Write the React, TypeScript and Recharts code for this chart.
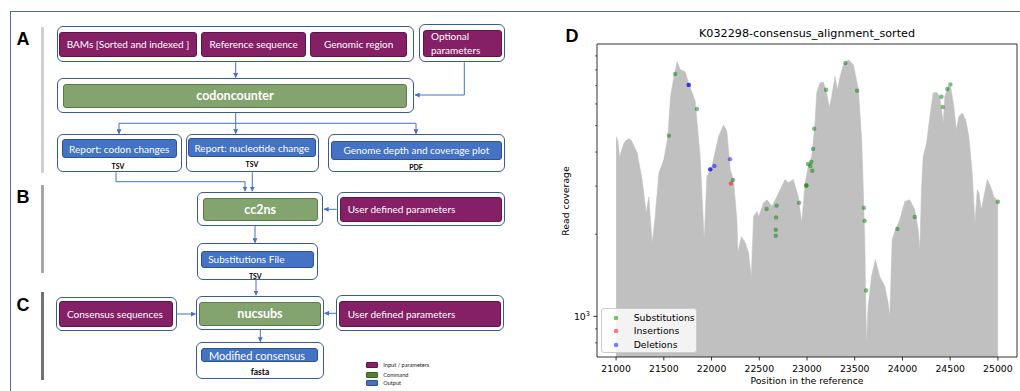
import React from 'react';
import { ComposedChart, Area, Scatter, XAxis, YAxis, Legend, ReferenceArea } from 'recharts';

// ---------- Panel D data ----------
const coveragePositions = [
  21000, 21020, 21037, 21052, 21084, 21126, 21157, 21220, 21273, 21315,
  21343, 21378, 21409, 21448, 21500, 21542, 21570, 21605, 21640, 21671,
  21724, 21758, 21829, 21881, 21923, 21951, 22004, 22073, 22126, 22161,
  22196, 22230, 22266, 22277, 22311, 22353, 22388, 22416, 22440, 22476,
  22493, 22545, 22581, 22633, 22668, 22717, 22770, 22804, 22857, 22909,
  22944, 22980, 23014, 23049, 23084, 23101, 23137, 23171, 23206, 23234,
  23258, 23294, 23318, 23347, 23381, 23434, 23486, 23539, 23573, 23588,
  23605, 23623, 23640, 23675, 23717, 23762, 23815, 23850, 23867, 23892,
  23919, 23972, 24024, 24077, 24129, 24165, 24182, 24199, 24217, 24252,
  24287, 24322, 24357, 24391, 24427, 24444, 24480, 24504, 24538, 24564,
  24591, 24627, 24661, 24696, 24731, 24759, 24784, 24801, 24826, 24853,
  24889, 24923, 24958, 25000,
];
const coverageDepth = [
  4560, 4365, 3811, 4009, 4325, 4478, 4436, 3981, 3170, 2399,
  2742, 1862, 2317, 3357, 3750, 4560, 6383, 7550, 8570, 8017,
  7870, 7194, 6149, 3856, 1910, 3251, 3545, 4560, 5035, 4753,
  3444, 3170, 2259, 1711, 1959, 1862, 1711, 1386, 2317, 2424,
  2317, 2606, 2673, 2530, 2673, 2911, 3170, 3090, 3170, 2750,
  2203, 3090, 3545, 3856, 5128, 6597, 7180, 7220, 6597, 5819,
  6400, 7570, 6777, 7570, 8356, 8714, 8356, 6777, 4436, 3090,
  1910, 801, 1088, 1401, 1614, 1401, 1288, 1122, 1000, 1910,
  2047, 2259, 2636, 2673, 2460, 2080, 1754, 2911, 3856, 4310,
  5400, 6580, 6620, 6400, 5128, 6400, 6960, 6960, 5900, 4830,
  5400, 5560, 5260, 4560, 3357, 2203, 2911, 2838, 2460, 2750,
  3170, 2990, 2750, 2636,
];

const substitutionPositions = [21553, 21619, 21847, 22224, 22577, 22682, 22676, 22673, 22673, 22917, 22993, 22993, 23009, 23046, 23035, 23056, 23064, 23075, 23200, 23402, 23525, 23596, 23604, 23619, 23947, 24129, 24409, 24423, 24470, 24502, 25000];
const substitutionDepth = [4592, 7727, 5750, 3160, 2473, 2545, 2305, 2078, 1975, 2609, 3016, 3016, 3615, 3678, 3556, 3418, 4108, 4870, 6766, 8477, 6710, 2497, 2241, 1244, 2092, 2312, 6378, 5848, 6808, 7076, 2630];
const insertionPositions = [22203];
const insertionDepth = [3068];
const deletionPositions = [21761, 21761, 21986, 21986, 22030, 22194];
const deletionDepth = [7047, 7047, 3456, 3456, 3556, 3767];

const seriesNames = ['Substitutions', 'Insertions', 'Deletions'];
const seriesColors = ['green', 'red', 'blue'];

const xTicks = [21000, 21500, 22000, 22500, 23000, 23500, 24000, 24500, 25000];
const yTicks = [800, 900, 1000, 2000, 3000, 4000, 5000, 6000, 7000, 8000, 9000];
const yMajorTicks = [1000];
const xDomain = [20800, 25200];
const yDomain = [710, 9950];

const chartTitle = 'K032298-consensus_alignment_sorted';
const xLabel = 'Position in the reference';
const yLabel = 'Read coverage';

const coverage = coveragePositions.map((pos, i) => ({ pos, cov: coverageDepth[i] }));
const substitutions = substitutionPositions.map((pos, i) => ({ pos, cov: substitutionDepth[i] }));
const insertions = insertionPositions.map((pos, i) => ({ pos, cov: insertionDepth[i] }));
const deletions = deletionPositions.map((pos, i) => ({ pos, cov: deletionDepth[i] }));

const MPL = 'DejaVu Sans';
const FS = 9.3;

const XTick = (props: any) => {
  const { x, y, payload } = props;
  return (
    <g>
      <line x1={x} x2={x} y1={y} y2={y + 3.5} stroke="#000" strokeWidth={0.8} />
      <text x={x} y={y + 14.7} textAnchor="middle" fontFamily={MPL} fontSize={FS} fill="#000">
        {payload.value}
      </text>
    </g>
  );
};

const YTick = (props: any) => {
  const { x, y, payload } = props;
  const major = yMajorTicks.includes(payload.value);
  if (!major) {
    return <line x1={x - 2} x2={x} y1={y} y2={y} stroke="#000" strokeWidth={0.6} />;
  }
  const exp = Math.round(Math.log10(payload.value));
  return (
    <g>
      <line x1={x - 3.5} x2={x} y1={y} y2={y} stroke="#000" strokeWidth={0.8} />
      <text x={x - 7} y={y + 3.4} textAnchor="end" fontFamily={MPL} fontSize={FS} fill="#000">
        10
        <tspan fontSize={6.6} dy={-4.2}>{exp}</tspan>
      </text>
    </g>
  );
};

const dotShape = (color: string) => (p: any) => (
  <circle cx={p.cx} cy={p.cy} r={2.2} fill={color} fillOpacity={0.5} />
);

const LegendBox = (props: any) => {
  const items = (props.payload || []).filter((p: any) => seriesNames.includes(p.value));
  items.sort((a: any, b: any) => seriesNames.indexOf(a.value) - seriesNames.indexOf(b.value));
  return (
    <div
      style={{
        width: 95.7,
        height: 44.4,
        boxSizing: 'border-box',
        border: '1px solid #cccccc',
        borderRadius: 3,
        background: 'rgba(255,255,255,0.8)',
        fontFamily: MPL,
        fontSize: FS,
        color: '#000',
        position: 'relative',
      }}
    >
      {items.map((p: any, i: number) => (
        <div
          key={p.value}
          style={{ position: 'absolute', left: -1, top: 8.4 + i * 13.7 - 8, height: 16, display: 'flex', alignItems: 'center', whiteSpace: 'nowrap' }}
        >
          <svg width={30} height={16} style={{ display: 'block' }}>
            <circle cx={15} cy={8} r={2.3} fill={seriesColors[seriesNames.indexOf(p.value)]} fillOpacity={0.5} />
          </svg>
          <span style={{ marginLeft: 2.7, lineHeight: '16px' }}>{p.value}</span>
        </div>
      ))}
    </div>
  );
};

// ---------- Flowchart helpers ----------
const PURPLE = '#851f66';
const PURPLE_B = '#5e1649';
const GREEN = '#84a46f';
const GREEN_B = '#5b7a49';
const BLUE = '#4472c4';
const BLUE_B = '#2f528f';
const OUTER_B = '#3b5a9b';
const FLOW_FONT = 'Lato, "Open Sans", sans-serif';

const Outer = ({ x, y, w, h }: any) => (
  <div
    style={{
      position: 'absolute', left: x, top: y, width: w, height: h, boxSizing: 'border-box',
      border: `1.4px solid ${OUTER_B}`, borderRadius: 6, background: '#fff',
    }}
  />
);

const Inner = ({ x, y, w, h, fill, border, children, left, size = 10, bold = false }: any) => (
  <div
    style={{
      position: 'absolute', left: x, top: y, width: w, height: h, boxSizing: 'border-box',
      background: fill, border: `1px solid ${border}`, borderRadius: 3, color: '#fff',
      display: 'flex', alignItems: 'center',
      justifyContent: left !== undefined ? 'flex-start' : 'center',
      paddingLeft: left !== undefined ? left - x : 0,
      fontFamily: FLOW_FONT, fontSize: size, fontWeight: bold ? 700 : 400, whiteSpace: 'nowrap',
      lineHeight: 1.2,
    }}
  >
    {children}
  </div>
);

const SubLabel = ({ cx, cy, children, size = 7 }: any) => (
  <div
    style={{
      position: 'absolute', left: cx - 30, top: cy - 6, width: 60, height: 12, textAlign: 'center',
      fontFamily: FLOW_FONT, fontWeight: 700, fontSize: size, lineHeight: '12px', color: '#000',
    }}
  >
    {children}
  </div>
);

const Letter = ({ cx, cy, children }: any) => (
  <div
    style={{
      position: 'absolute', left: cx - 15, top: cy - 12, width: 30, height: 24, textAlign: 'center',
      fontFamily: '"Liberation Sans", Arial, sans-serif', fontWeight: 700, fontSize: 18, lineHeight: '24px', color: '#000',
    }}
  >
    {children}
  </div>
);

const Bar = ({ y1, y2, color }: any) => (
  <div style={{ position: 'absolute', left: 41, top: y1, width: 3, height: y2 - y1, background: color }} />
);

const arrowPaths = [
  { d: 'M235.7 62.3 V77.5', head: true },
  { d: 'M464.3 62.3 V95 H415', head: true },
  { d: 'M235.7 112.7 V133.8', head: true },
  { d: 'M119 123.3 H416', head: false },
  { d: 'M119 123.3 V133.8', head: true },
  { d: 'M416 123.3 V133.8', head: true },
  { d: 'M116 172.3 V181.7 H245 V191.2', head: true },
  { d: 'M252.3 172.3 V191.2', head: true },
  { d: 'M336.7 209.3 H324', head: true },
  { d: 'M255 226 V242.8', head: true },
  { d: 'M256 280 V295.2', head: true },
  { d: 'M176.7 314 H195.5', head: true },
  { d: 'M336 313.3 H324.5', head: true },
  { d: 'M260.3 330 V341.8', head: true },
];

export default function App() {
  return (
    <div style={{ position: 'absolute', left: 0, top: 0, width: 1020, height: 391, background: '#fff', overflow: 'hidden' }}>
      {/* figure frame */}
      <div style={{ position: 'absolute', left: 10, top: 10.5, width: 1010, height: 1.3, background: '#5068a8' }} />
      <div style={{ position: 'absolute', left: 9.5, top: 10.5, width: 1.3, height: 381, background: '#5068a8' }} />

      {/* ---------- Flowchart A/B/C ---------- */}
      <Letter cx={23} cy={39}>A</Letter>
      <Letter cx={23} cy={197}>B</Letter>
      <Letter cx={23} cy={305}>C</Letter>
      <Bar y1={26.7} y2={173.3} color="#d0d0d0" />
      <Bar y1={185} y2={273.3} color="#a8a6a6" />
      <Bar y1={291.7} y2={380} color="#767171" />

      {/* Row 1 */}
      <Outer x={56.7} y={25.7} w={357.6} h={36.6} />
      <Inner x={59.3} y={31.7} w={137.4} h={25.6} fill={PURPLE} border={PURPLE_B}>BAMs [Sorted and indexed ]</Inner>
      <Inner x={201.3} y={31.7} w={104.7} h={25.6} fill={PURPLE} border={PURPLE_B}>Reference sequence</Inner>
      <Inner x={310} y={31.7} w={97.3} h={25.6} fill={PURPLE} border={PURPLE_B}>Genomic region</Inner>
      <Outer x={419} y={24.3} w={86} h={38} />
      <Inner x={422.7} y={30} w={79} h={26.7} fill={PURPLE} border={PURPLE_B} left={430}>
        <span style={{ lineHeight: '14px' }}>Optional<br />parameters</span>
      </Inner>

      {/* Row 2 */}
      <Outer x={56.7} y={77.7} w={357.6} h={35} />
      <Inner x={62.7} y={84.3} w={344.6} h={23.4} fill={GREEN} border={GREEN_B} size={12.5} bold>codoncounter</Inner>

      {/* Row 3 */}
      <Outer x={56.7} y={134.3} w={125} h={38} />
      <Inner x={61.7} y={139.3} w={115} h={19} fill={BLUE} border={BLUE_B}>Report: codon changes</Inner>
      <SubLabel cx={118} cy={166}>TSV</SubLabel>
      <Outer x={185.7} y={134.3} w={133.6} h={38} />
      <Inner x={187.7} y={138.3} w={128.3} h={19} fill={BLUE} border={BLUE_B}>Report: nucleotide change</Inner>
      <SubLabel cx={252} cy={163.7}>TSV</SubLabel>
      <Outer x={327.7} y={134.3} w={177.3} h={38} />
      <Inner x={331} y={140.7} w={170.7} h={19.3} fill={BLUE} border={BLUE_B}>Genome depth and coverage plot</Inner>
      <SubLabel cx={416} cy={167.3}>PDF</SubLabel>

      {/* B */}
      <Outer x={196.7} y={191.7} w={126.6} h={34.3} />
      <Inner x={202.7} y={198.3} w={115} h={22.7} fill={GREEN} border={GREEN_B} size={12.5} bold>cc2ns</Inner>
      <Outer x={336.7} y={191.7} w={168.3} h={34.3} />
      <Inner x={340} y={196.7} w={161.7} h={25.6} fill={PURPLE} border={PURPLE_B} left={346.7}>User defined parameters</Inner>
      <Outer x={196.7} y={243.3} w={121.6} h={36.7} />
      <Inner x={201} y={251} w={113.3} h={16.7} fill={BLUE} border={BLUE_B} left={207.3}>Substitutions File</Inner>
      <SubLabel cx={255.3} cy={275.7}>TSV</SubLabel>

      {/* C */}
      <Outer x={55.7} y={297.3} w={121} h={33.4} />
      <Inner x={59.3} y={300.7} w={114} h={26} fill={PURPLE} border={PURPLE_B} left={66}>Consensus sequences</Inner>
      <Outer x={196} y={295.7} w={128} h={34.3} />
      <Inner x={199.3} y={301.7} w={121.4} h={24} fill={GREEN} border={GREEN_B} size={12.5} bold>nucsubs</Inner>
      <Outer x={336} y={295.3} w={168} h={35.4} />
      <Inner x={339.3} y={300.7} w={161.7} h={26} fill={PURPLE} border={PURPLE_B} left={346.7}>User defined parameters</Inner>
      <Outer x={196} y={342.3} w={128} h={37} />
      <Inner x={201.3} y={348.3} w={117} h={14} fill={BLUE} border={BLUE_B} left={208} size={11}>Modified consensus</Inner>
      <SubLabel cx={260} cy={371.7} size={8.5}>fasta</SubLabel>

      {/* flowchart legend */}
      <div style={{ position: 'absolute', left: 366, top: 361.7, width: 11.7, height: 6, background: PURPLE, border: `0.6px solid ${PURPLE_B}`, boxSizing: 'border-box', borderRadius: 1 }} />
      <div style={{ position: 'absolute', left: 366, top: 372, width: 11.7, height: 5.5, background: '#548235', border: '0.6px solid #3d5f26', boxSizing: 'border-box', borderRadius: 1 }} />
      <div style={{ position: 'absolute', left: 366, top: 380, width: 11.7, height: 5.7, background: BLUE, border: `0.6px solid ${BLUE_B}`, boxSizing: 'border-box', borderRadius: 1 }} />
      {[
        ['Input / parameters', 365],
        ['Command', 375],
        ['Output', 383],
      ].map(([t, cy]) => (
        <div key={t as string} style={{ position: 'absolute', left: 383.3, top: (cy as number) - 4, height: 8, lineHeight: '8px', fontSize: 5.6, fontFamily: FLOW_FONT, color: '#222', whiteSpace: 'nowrap' }}>
          {t}
        </div>
      ))}

      {/* arrows */}
      <svg style={{ position: 'absolute', left: 0, top: 0 }} width={560} height={391}>
        <defs>
          <marker id="ah" markerWidth={5} markerHeight={5} refX={4.6} refY={2.5} orient="auto" markerUnits="userSpaceOnUse">
            <path d="M0,0 L5,2.5 L0,5 z" fill={BLUE} />
          </marker>
        </defs>
        {arrowPaths.map((a, i) => (
          <path key={i} d={a.d} fill="none" stroke={BLUE} strokeWidth={1} markerEnd={a.head ? 'url(#ah)' : undefined} />
        ))}
      </svg>

      {/* ---------- Panel D ---------- */}
      <Letter cx={572} cy={36}>D</Letter>
      <div style={{ position: 'absolute', left: 560, top: 0 }}>
        <ComposedChart width={460} height={391} margin={{ top: 44, right: 3, bottom: 0, left: 0 }}>
          <XAxis
            dataKey="pos"
            type="number"
            domain={xDomain}
            ticks={xTicks}
            allowDataOverflow
            height={34}
            axisLine={false}
            tickLine={false}
            tickSize={0}
            tickMargin={0}
            tick={<XTick />}
            interval={0}
          />
          <YAxis
            dataKey="cov"
            type="number"
            scale="log"
            domain={yDomain}
            ticks={yTicks}
            allowDataOverflow
            width={37}
            axisLine={false}
            tickLine={false}
            tickSize={0}
            tickMargin={0}
            tick={<YTick />}
            interval={0}
          />
          <Area
            data={coverage}
            dataKey="cov"
            type="linear"
            fill="#c0c0c0"
            fillOpacity={1}
            stroke="#c0c0c0"
            strokeWidth={0.5}
            baseValue={yDomain[0]}
            dot={false}
            activeDot={false}
            legendType="none"
            isAnimationActive={false}
          />
          <Scatter name={seriesNames[0]} data={substitutions} dataKey="cov" fill={seriesColors[0]} shape={dotShape(seriesColors[0])} isAnimationActive={false} />
          <Scatter name={seriesNames[1]} data={insertions} dataKey="cov" fill={seriesColors[1]} shape={dotShape(seriesColors[1])} isAnimationActive={false} />
          <Scatter name={seriesNames[2]} data={deletions} dataKey="cov" fill={seriesColors[2]} shape={dotShape(seriesColors[2])} isAnimationActive={false} />
          <ReferenceArea x1={xDomain[0]} x2={xDomain[1]} y1={yDomain[0]} y2={yDomain[1]} fill="none" stroke="#000" strokeWidth={0.8} ifOverflow="visible" />
          <Legend
            layout="vertical"
            align="center"
            verticalAlign="middle"
            wrapperStyle={{ left: 41, top: 308.3, width: 95.7, height: 44.4 }}
            content={<LegendBox />}
          />
        </ComposedChart>
      </div>
      <div style={{ position: 'absolute', left: 597, top: 27.3, width: 420, height: 14, lineHeight: '14px', textAlign: 'center', fontFamily: MPL, fontSize: 11.2, color: '#000', whiteSpace: 'nowrap' }}>
        {chartTitle}
      </div>
      <div style={{ position: 'absolute', left: 597, top: 374, width: 420, height: 14, lineHeight: '14px', textAlign: 'center', fontFamily: MPL, fontSize: FS, color: '#000', whiteSpace: 'nowrap' }}>
        {xLabel}
      </div>
      <div style={{ position: 'absolute', left: 566, top: 200.5, width: 0, height: 0 }}>
        <div style={{ position: 'absolute', left: -60, top: -7, width: 120, height: 14, lineHeight: '14px', textAlign: 'center', transform: 'rotate(-90deg)', fontFamily: MPL, fontSize: FS, color: '#000', whiteSpace: 'nowrap' }}>
          {yLabel}
        </div>
      </div>
    </div>
  );
}
